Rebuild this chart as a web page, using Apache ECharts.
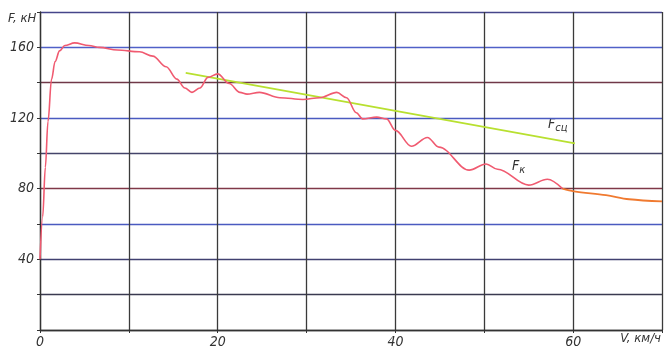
<!DOCTYPE html>
<html><head><meta charset="utf-8">
<script src="https://cdn.jsdelivr.net/npm/echarts@6/dist/echarts.min.js"></script>
<style>html,body{margin:0;padding:0;background:#fff}#c{width:665px;height:349px}</style>
</head><body><div id="c"></div>
<script>
// Traction force Fк (km/h, kN)
const fkSpeed = [0,0.3,0.6,0.9,1.3,1.7,2.2,2.8,3.9,5.5,6.7,8.7,11.2,12.7,14.2,15.4,16.3,17.1,18,18.9,20,21.3,22.5,23.3,24.7,27,29.6,31.5,33.4,34.5,35.6,36.3,37.9,39,40,41.8,43.6,44.9,48.3,50.2,51.5,55,57.1,58.8];
const fkForce = [40,64,92,118,142,152,158,161,162.5,161,160,158.5,157.5,155,149,142,137,134.5,137,143,145,139.5,134.5,133.5,134.5,131.5,130.5,131.5,134.5,131.5,123,119.5,120.5,119.5,113,104,109,103.5,90.5,94,91,82,85.3,80];
const fkTailSpeed = [58.8,60.1,63.7,66.3,70];
const fkTailForce = [80,78.5,76.3,74,72.8];
// Adhesion limit Fсц
const fscSpeed = [16.4,60.2];
const fscForce = [145.5,105.6];
const xTicks = [0,20,40,60];
const yTicks = [40,80,120,160];

const zip = (a,b)=>a.map((v,i)=>[v,b[i]]);
const font = "'Liberation Sans Narrow','DejaVu Sans Condensed',sans-serif";
const hColors = ['#444','#3a3a50','#404070','#4a5ac0','#803848','#44446a','#4a5ac0','#703848','#5060c8','#45458a'];

const chart = echarts.init(document.getElementById('c'), null, {renderer:'canvas'});
chart.setOption({
  animation:false,
  backgroundColor:'#fff',
  grid:{left:40,right:2,top:12,bottom:19,containLabel:false},
  xAxis:{type:'value',min:0,max:70,interval:10,
    axisLine:{show:true,lineStyle:{color:'#333',width:1.3}},
    axisTick:{show:true,length:3,lineStyle:{color:'#333'},interval:0},
    splitLine:{show:true,lineStyle:{color:'#3a3a3a',width:1.3}},
    axisLabel:{fontFamily:font,fontStyle:'italic',fontSize:14,color:'#333',margin:5,
      formatter:v=>xTicks.includes(v)?String(v):''}},
  yAxis:{type:'value',min:0,max:180,interval:20,
    axisLine:{show:true,lineStyle:{color:'#333',width:1.3}},
    axisTick:{show:true,length:3,lineStyle:{color:'#333'}},
    splitLine:{show:true,lineStyle:{color:hColors,width:1.3}},
    axisLabel:{fontFamily:font,fontStyle:'italic',fontSize:14,color:'#333',margin:6,
      formatter:v=>yTicks.includes(v)?String(v):''}},
  series:[
    {type:'line',data:zip(fscSpeed,fscForce),symbol:'none',lineStyle:{color:'#b8e030',width:1.8},z:3},
    {type:'line',data:zip(fkSpeed,fkForce),symbol:'none',smooth:0.35,smoothMonotone:'x',lineStyle:{color:'#f05a70',width:1.6},z:4},
    {type:'line',data:zip(fkTailSpeed,fkTailForce),symbol:'none',smooth:0.35,lineStyle:{color:'#f07a30',width:1.8},z:4}
  ],
  graphic:[
    {type:'text',left:8,top:12,style:{text:'F, кН',font:"italic 13px "+font,fill:'#333'}},
    {type:'text',right:4,top:332,style:{text:'V, км/ч',font:"italic 13px "+font,fill:'#333'}},
    {type:'text',left:548,top:117,style:{text:'{a|F}{b|сц}',rich:{a:{font:"italic 14px "+font,fill:'#333'},b:{font:"italic 11px "+font,fill:'#333',padding:[8,0,0,0]}}}},
    {type:'text',left:512,top:159,style:{text:'{a|F}{b|к}',rich:{a:{font:"italic 14px "+font,fill:'#333'},b:{font:"italic 11px "+font,fill:'#333',padding:[8,0,0,0]}}}}
  ]
});
</script></body></html>
